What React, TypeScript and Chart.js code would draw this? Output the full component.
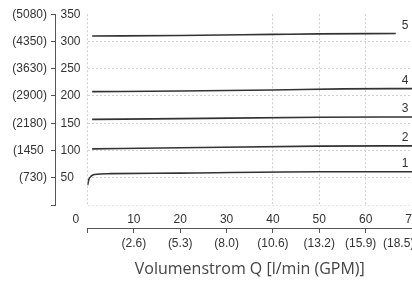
import React, { useEffect, useRef } from 'react';
import { Chart, registerables } from 'chart.js';

Chart.register(...registerables);

// ---- data ----
const flowTicks = ['0', '10', '20', '30', '40', '50', '60', '70'];
const gpmTicks = ['', '(2.6)', '(5.3)', '(8.0)', '(10.6)', '(13.2)', '(15.9)', '(18.5)'];
const pressureTicks = ['', '50', '100', '150', '200', '250', '300', '350'];
const psiTicks = ['', '(730)', '(1450', '(2180)', '(2900)', '(3630)', '(4350)', '(5080)'];
const axisTitle = 'Volumenstrom Q [l/min (GPM)]';
const curveNames = ['1', '2', '3', '4', '5'];

const curve1X = [0, 0.3, 0.8, 1.5, 5, 20, 50, 71];
const curve1Y = [36, 47, 53, 56, 57.5, 58.5, 61, 61];
const curve2X = [1, 20, 50, 71];
const curve2Y = [103, 105, 108, 108.5];
const curve3X = [1, 20, 50, 71];
const curve3Y = [157, 158.5, 161, 161.5];
const curve4X = [1, 20, 40, 55, 71];
const curve4Y = [208, 209, 211, 213, 213.5];
const curve5X = [1, 20, 40, 50, 66.5];
const curve5Y = [310, 311, 313, 314, 314.5];

const curvesX = [curve1X, curve2X, curve3X, curve4X, curve5X];
const curvesY = [curve1Y, curve2Y, curve3Y, curve4Y, curve5Y];

// ---- style constants ----
const FONT = "'Liberation Sans', Arial, sans-serif";
const TEXT = '#333';
const AXIS = '#555';
const GRID = '#d0d0d0';
const LINE = '#333';
const LABEL_X = 68.5;
const visibleVGrid = [0, 4, 5, 6];
const shiftFlow: Record<number, number> = { 0: 7 };
const shiftGpm: Record<number, number> = { 6: 3, 7: 8 };

const curveLabelPlugin = {
  id: 'curveLabels',
  afterDatasetsDraw(chart: any) {
    const { ctx, scales } = chart;
    ctx.save();
    ctx.font = `12px ${FONT}`;
    ctx.fillStyle = TEXT;
    ctx.textAlign = 'center';
    ctx.textBaseline = 'bottom';
    curvesY.forEach((ys, i) => {
      const x = scales.x.getPixelForValue(LABEL_X);
      const y = scales.y.getPixelForValue(ys[ys.length - 1]);
      ctx.fillText(curveNames[i], x, y - 2);
    });
    ctx.restore();
  },
};

export default function App() {
  const ref = useRef<HTMLCanvasElement>(null);

  useEffect(() => {
    if (!ref.current) return;
    const datasets = curvesX.map((xs, i) => ({
      label: curveNames[i],
      data: xs.map((x, j) => ({ x, y: curvesY[i][j] })),
      borderColor: LINE,
      borderWidth: 1.6,
      pointRadius: 0,
      fill: false,
      cubicInterpolationMode: 'monotone' as const,
      xAxisID: 'x',
      yAxisID: 'y',
    }));

    const chart = new Chart(ref.current, {
      type: 'line',
      data: { datasets },
      plugins: [curveLabelPlugin],
      options: {
        animation: false,
        responsive: false,
        layout: { padding: { left: 0, right: 0, top: 11.5, bottom: 0 } },
        plugins: { legend: { display: false }, tooltip: { enabled: false } },
        scales: {
          x: {
            type: 'linear',
            position: 'bottom',
            weight: 0,
            min: 0,
            max: 70,
            afterBuildTicks: (s: any) => {
              s.ticks = flowTicks.map((_, i) => ({ value: i * 10 }));
            },
            afterFit: (s: any) => {
              s.height = 23;
              s.paddingLeft = 0;
              s.paddingRight = 0;
            },
            ticks: {
              autoSkip: false,
              maxRotation: 0,
              padding: 7,
              color: TEXT,
              font: { family: FONT, size: 12 },
              callback: (_v: any, i: number) => flowTicks[i] + ' '.repeat(shiftFlow[i] || 0),
            },
            grid: {
              drawTicks: false,
              color: (c: any) => (visibleVGrid.includes(c.index) ? GRID : 'rgba(0,0,0,0)'),
              lineWidth: 1,
            },
            border: { display: false, dash: [2, 2] },
          },
          x2: {
            type: 'linear',
            position: 'bottom',
            weight: 1,
            min: 0,
            max: 70,
            afterBuildTicks: (s: any) => {
              s.ticks = gpmTicks.map((_, i) => ({ value: i * 10 }));
            },
            afterFit: (s: any) => {
              s.height = 65;
              s.paddingLeft = 0;
              s.paddingRight = 0;
            },
            ticks: {
              autoSkip: false,
              maxRotation: 0,
              padding: 3,
              color: TEXT,
              font: { family: FONT, size: 12 },
              callback: (_v: any, i: number) => gpmTicks[i] + ' '.repeat(shiftGpm[i] || 0),
            },
            grid: {
              drawOnChartArea: false,
              drawTicks: true,
              tickLength: 5,
              tickColor: AXIS,
              color: AXIS,
            },
            border: { display: true, color: AXIS, width: 1 },
            title: {
              display: true,
              text: axisTitle,
              color: '#444',
              font: { family: "'Open Sans', sans-serif", size: 16 },
              padding: { top: 0, bottom: 14 },
            },
          },
          y: {
            type: 'linear',
            position: 'left',
            weight: 0,
            min: 0,
            max: 350,
            afterBuildTicks: (s: any) => {
              s.ticks = pressureTicks.map((_, i) => ({ value: i * 50 }));
            },
            afterFit: (s: any) => {
              s.width = 32.5;
            },
            ticks: {
              padding: 7,
              color: TEXT,
              font: { family: FONT, size: 12 },
              callback: (_v: any, i: number) => {
                const t = pressureTicks[i];
                return t + '  '.repeat(Math.max(0, 3 - t.length));
              },
            },
            grid: {
              drawTicks: false,
              color: (c: any) => (c.index === 7 ? 'rgba(0,0,0,0)' : c.index === 0 ? '#e6e6e6' : GRID),
              lineWidth: 1,
            },
            border: { display: false, dash: [2, 2] },
          },
          yp: {
            type: 'linear',
            position: 'left',
            weight: 1,
            min: 0,
            max: 350,
            afterBuildTicks: (s: any) => {
              s.ticks = psiTicks.map((_, i) => ({ value: i * 50 }));
            },
            afterFit: (s: any) => {
              s.width = 55;
            },
            ticks: {
              padding: 4,
              color: TEXT,
              font: { family: FONT, size: 12 },
              callback: (_v: any, i: number) => {
                const t = psiTicks[i];
                return t && !t.endsWith(')') ? t + ' ' : t;
              },
            },
            grid: {
              drawOnChartArea: false,
              drawTicks: true,
              tickLength: 4,
              tickColor: AXIS,
              color: AXIS,
            },
            border: { display: true, color: AXIS, width: 1 },
          },
        },
      } as any,
    });
    return () => chart.destroy();
  }, []);

  return (
    <div style={{ position: 'absolute', left: 0, top: 0, width: 412, height: 293, overflow: 'hidden', background: '#fff' }}>
      <canvas ref={ref} width={412} height={293} style={{ display: 'block' }} />
    </div>
  );
}
